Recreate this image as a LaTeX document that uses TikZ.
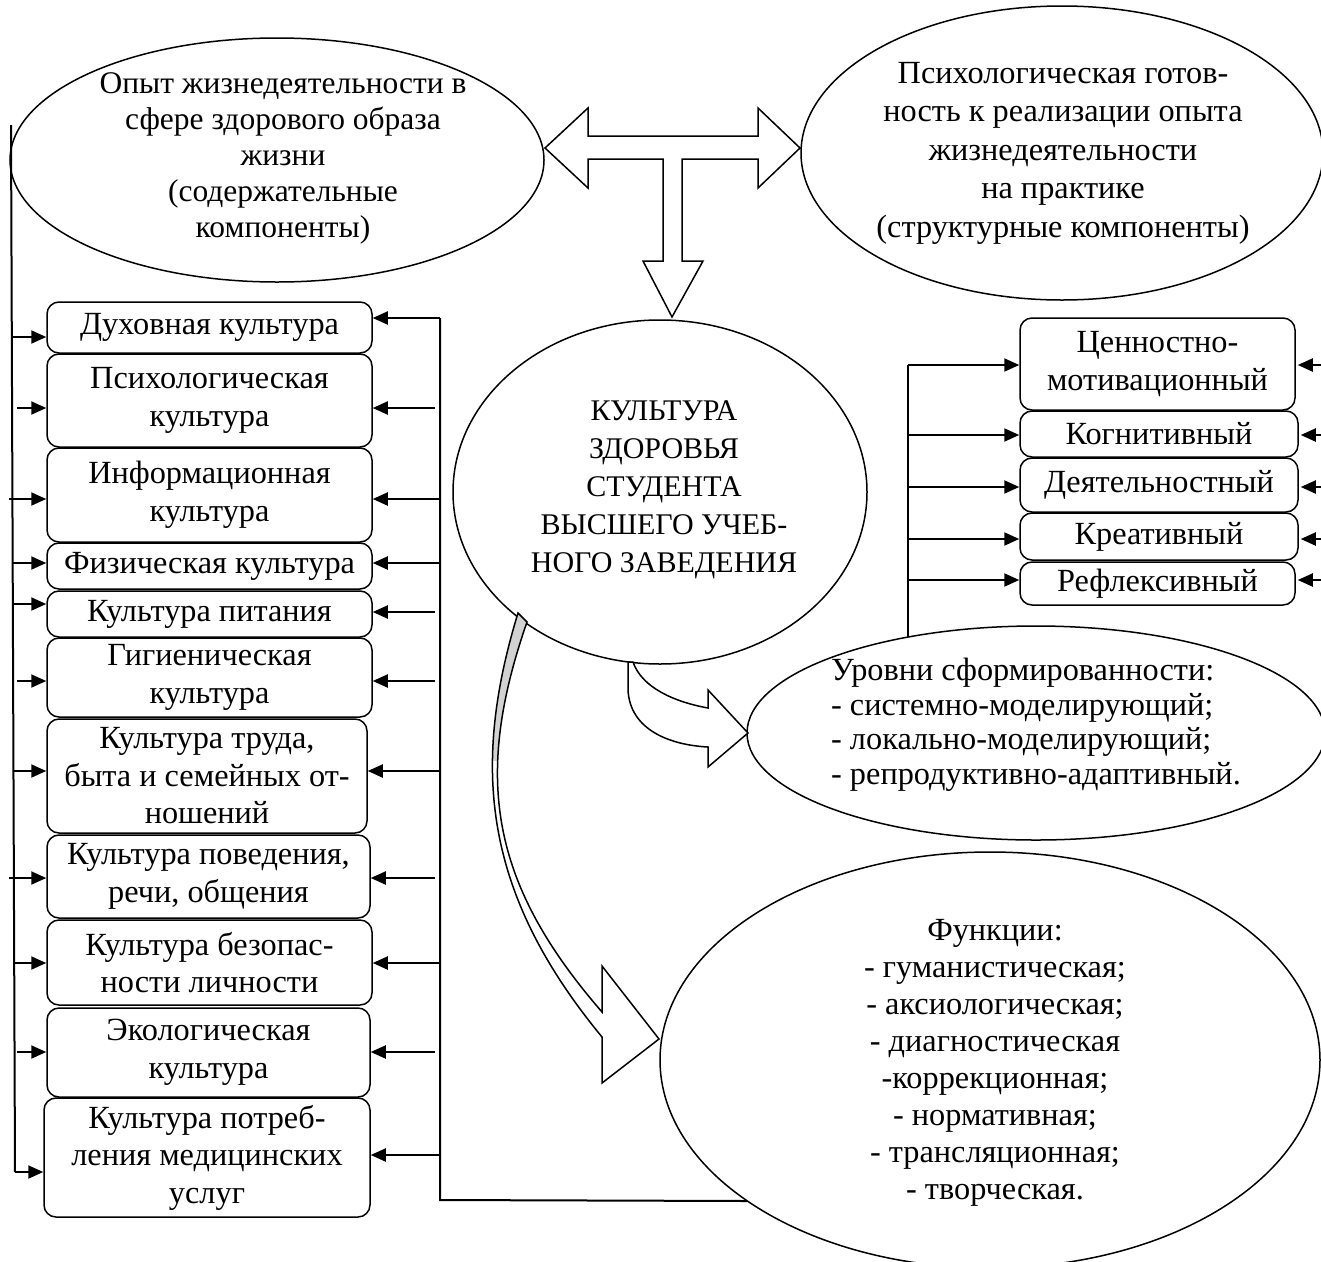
\documentclass[tikz,border=0pt]{standalone}
\usepackage{fontspec}
\setmainfont{Liberation Serif}
\usetikzlibrary{arrows.meta,shapes.geometric}
\begin{document}
\begin{tikzpicture}[x=1pt,y=-1pt,
  txt/.style={font=\fontsize{32.3}{37.5}\selectfont},
  lbox/.style={draw, line width=1.5pt, rounded corners=12pt, fill=white, inner sep=0pt, align=center, txt},
  ell/.style={draw, ellipse, line width=1.5pt, inner sep=0pt, fill=white},
  arr/.style={line width=2pt, -{Triangle[length=15pt,width=13pt]}},
  ln/.style={line width=2pt},
  blk/.style={draw, line width=1.5pt, fill=white, line join=miter}
]
\useasboundingbox (0,0) rectangle (1321,1261);

% ellipses
\node[ell, minimum width=534pt, minimum height=244pt] (exp) at (277,160) {};
\node[txt, align=center, font=\fontsize{31.5}{36}\selectfont] (expt) at (283,158) {Опыт жизнедеятельности в\\сфере здорового образа\\жизни\\(содержательные\\компоненты)};

\node[ell, minimum width=522pt, minimum height=294pt] (psy) at (1062,153) {};
\node[txt, align=center, font=\fontsize{32.3}{38.5}\selectfont] (psyt) at (1063,153) {Психологическая готов-\\ность к реализации опыта\\жизнедеятельности\\на практике\\(структурные компоненты)};

\node[ell, minimum width=414pt, minimum height=344pt] (cen) at (660,492) {};
\node[txt, align=center, font=\fontsize{30}{38}\selectfont] (cent) at (664,490) {КУЛЬТУРА\\ЗДОРОВЬЯ\\СТУДЕНТА\\ВЫСШЕГО УЧЕБ-\\НОГО ЗАВЕДЕНИЯ};

\node[ell, minimum width=578pt, minimum height=214pt] (lev) at (1036,733) {};
\node[txt, align=left, font=\fontsize{32.3}{34.5}\selectfont] (levt) at (1036,725) {Уровни сформированности:\\- системно-моделирующий;\\- локально-моделирующий;\\- репродуктивно-адаптивный.};

\node[ell, minimum width=660pt, minimum height=416pt] (fun) at (990,1060) {};
\node[txt, align=center, font=\fontsize{32.3}{37}\selectfont] (funt) at (995,1063) {Функции:\\- гуманистическая;\\- аксиологическая;\\- диагностическая\\-коррекционная;\\- нормативная;\\- трансляционная;\\- творческая.};

% T block arrow
\draw[blk] (545,148) -- (588,108) -- (588,136) -- (758,136) -- (758,108) -- (800,148)
  -- (758,188) -- (758,159) -- (682,159) -- (682,261) -- (703,261) -- (672,317)
  -- (643,261) -- (663,261) -- (663,159) -- (588,159) -- (588,188) -- cycle;

% curved arrow to levels
\draw[blk] (628,662) -- (628,690) .. controls (630,730) and (670,745) .. (708,747)
  -- (708,767) -- (748,733) -- (708,690) -- (708,708)
  .. controls (675,702) and (642,688) .. (633,662) -- cycle;

% long curved arrow to functions
\def\bandpath{(518,613) .. controls (470,770) and (485,895) .. (602,1037)
  -- (602,1083) -- (659,1039) -- (602,966) -- (602,1012)
  .. controls (492,885) and (472,780) .. (527,622) -- cycle}
\fill[white] \bandpath;
\begin{scope}
  \clip (400,560) rectangle (620,760);
  \fill[gray!35] \bandpath;
\end{scope}
\draw[line width=1.5pt, line join=miter] \bandpath;

% left column boxes
\node[lbox, minimum width=325pt, minimum height=51pt] (b1) at (209.5,327.5) {Духовная культура};
\node[lbox, minimum width=325pt, minimum height=93pt] (b2) at (209.5,400.5) {Психологическая\\культура};
\node[lbox, minimum width=325pt, minimum height=94pt] (b3) at (209.5,495) {Информационная\\культура};
\node[lbox, minimum width=325pt, minimum height=46pt] (b4) at (209.5,566) {Физическая культура};
\node[lbox, minimum width=325pt, minimum height=46pt] (b5) at (209.5,614) {Культура питания};
\node[lbox, minimum width=325pt, minimum height=79pt] (b6) at (209.5,677.5) {Гигиеническая\\культура};
\node[lbox, minimum width=320pt, minimum height=114pt] (b7) at (207,776) {Культура труда,\\быта и семейных от-\\ношений};
\node[lbox, minimum width=323pt, minimum height=83pt] (b8) at (208.5,876.5) {Культура поведения,\\речи, общения};
\node[lbox, minimum width=325pt, minimum height=85pt] (b9) at (209.5,962.5) {Культура безопас-\\ности личности};
\node[lbox, minimum width=323pt, minimum height=89pt] (b10) at (208.5,1052.5) {Экологическая\\культура};
\node[lbox, minimum width=326pt, minimum height=119pt] (b11) at (207,1157.5) {Культура потреб-\\ления медицинских\\услуг};

% right column boxes
\node[lbox, minimum width=275pt, minimum height=92pt] (c1) at (1157.5,364) {Ценностно-\\мотивационный};
\node[lbox, minimum width=278pt, minimum height=46pt] (c2) at (1159,434) {Когнитивный};
\node[lbox, minimum width=278pt, minimum height=54pt] (c3) at (1159,485) {Деятельностный};
\node[lbox, minimum width=278pt, minimum height=47pt] (c4) at (1159,536.5) {Креативный};
\node[lbox, minimum width=275pt, minimum height=43pt] (c5) at (1157.5,583.5) {Рефлексивный};

% left trunk line
\coordinate (ltop) at (11,125);
\coordinate (lbot) at (15,1172);
\draw[ln] (ltop) -- (lbot);
\foreach \n/\x/\y in {1/12/337, 2/17/408, 3/9/499, 4/12/563, 5/12/604, 6/17/681,
                      7/14/771, 8/9/878, 9/15/963, 10/17/1052, 11/15/1172} {
  \coordinate (la\n) at (\x,\y);
  \draw[arr] (la\n) -- (la\n -| b\n.west);
}

% right trunk line
\coordinate (rtop) at (440,318);
\coordinate (rbot) at (440,1200);
\coordinate (rend) at (747,1201);
\draw[ln] (rtop) -- (rbot) -- (rend);
\foreach \n/\x/\y in {1/440/318, 2/435/408, 3/440/499, 4/440/563, 5/435/612, 6/435/681,
                      7/440/771, 8/435/878, 9/440/963, 10/435/1052, 11/440/1155} {
  \coordinate (ra\n) at (\x,\y);
  \draw[arr] (ra\n) -- (ra\n -| b\n.east);
}

% right boxes connectors
\coordinate (qtop) at (908,365);
\coordinate (qbot) at (908,637);
\draw[ln] (qtop) -- (qbot);
\foreach \n/\y in {1/365, 2/435, 3/487, 4/539, 5/580} {
  \coordinate (qa\n) at (908,\y);
  \draw[arr] (qa\n) -- (qa\n -| c\n.west);
  \coordinate (qr\n) at (1322,\y);
  \draw[arr] (qr\n) -- ([xshift=2pt]qr\n -| c\n.east);
}
\end{tikzpicture}
\end{document}
